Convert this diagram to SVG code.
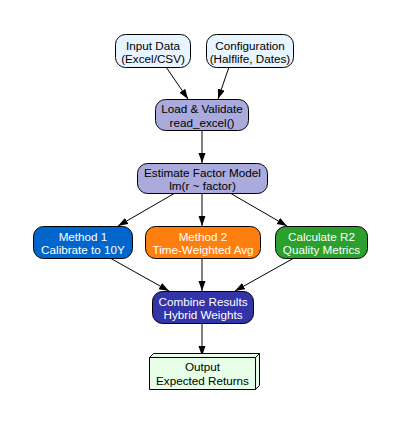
<svg xmlns="http://www.w3.org/2000/svg" width="400" height="423" viewBox="0 0 400 423">
<defs>
<marker id="ah" markerWidth="10" markerHeight="8" refX="10" refY="3.5" orient="auto" markerUnits="userSpaceOnUse"><path d="M0,0 L10,3.5 L0,7 z" fill="#000"/></marker>
<style>
.n{stroke:#000;stroke-width:1}
.t{font-family:"Liberation Sans",Arial,sans-serif;font-size:11.7px;text-anchor:middle;fill:#000}
.w{fill:#fff}
.e{stroke:#000;stroke-width:1;fill:none;marker-end:url(#ah)}
</style>
</defs>
<rect width="400" height="423" fill="#fff"/>
<g id="connectors">
<line class="e" x1="166" y1="67" x2="188" y2="99"/>
<line class="e" x1="229" y1="67" x2="218" y2="99"/>
<line class="e" x1="202" y1="130" x2="202" y2="163"/>
<line class="e" x1="175" y1="193" x2="118" y2="226"/>
<line class="e" x1="202" y1="193" x2="202" y2="226"/>
<line class="e" x1="230" y1="193" x2="287" y2="226"/>
<line class="e" x1="110" y1="258" x2="169" y2="291"/>
<line class="e" x1="202" y1="258" x2="202" y2="291"/>
<line class="e" x1="294" y1="258" x2="235" y2="291"/>
<line class="e" x1="202" y1="323" x2="202" y2="356"/>
</g>
<g id="input">
<rect class="n" x="115.5" y="34.5" width="75" height="33" rx="10" fill="#e8f4ff"/>
<text class="t" x="153" y="49.5">Input Data</text>
<text class="t" x="153" y="63">(Excel/CSV)</text>
</g>
<g id="config">
<rect class="n" x="206.5" y="34.5" width="87" height="33" rx="10" fill="#e8f4ff"/>
<text class="t" x="250" y="49.5">Configuration</text>
<text class="t" x="250" y="63">(Halflife, Dates)</text>
</g>
<g id="load">
<rect class="n" x="155.5" y="99.5" width="93" height="31" rx="10" fill="#aaaadd"/>
<text class="t" x="202" y="113">Load &amp; Validate</text>
<text class="t" x="202" y="126.5">read_excel()</text>
</g>
<g id="estimate">
<rect class="n" x="137.5" y="163.5" width="130" height="30" rx="10" fill="#aaaadd"/>
<text class="t" x="202.5" y="177">Estimate Factor Model</text>
<text class="t" x="202.5" y="190">lm(r ~ factor)</text>
</g>
<g id="method1">
<rect class="n" x="33.5" y="226.5" width="99" height="32" rx="10" fill="#0066cc"/>
<text class="t w" x="83" y="240.5">Method 1</text>
<text class="t w" x="83" y="254">Calibrate to 10Y</text>
</g>
<g id="method2">
<rect class="n" x="145.5" y="226.5" width="115" height="32" rx="10" fill="#ff7f0e"/>
<text class="t w" x="203" y="240.5">Method 2</text>
<text class="t w" x="203" y="254">Time-Weighted Avg</text>
</g>
<g id="r2">
<rect class="n" x="275.5" y="226.5" width="92" height="32" rx="10" fill="#2ca02c"/>
<text class="t w" x="321.5" y="240.5">Calculate R2</text>
<text class="t w" x="321.5" y="254">Quality Metrics</text>
</g>
<g id="combine">
<rect class="n" x="152.5" y="291.5" width="101" height="32" rx="10" fill="#3333aa"/>
<text class="t w" x="203" y="305.5">Combine Results</text>
<text class="t w" x="203" y="319">Hybrid Weights</text>
</g>
<g id="output">
<path class="n" d="M149.5,357.5 L153.5,353.5 L259.5,353.5 L259.5,385.5 L255.5,389.5 L149.5,389.5 Z" fill="#e6ffe6"/>
<path class="n" d="M149.5,357.5 L255.5,357.5 L255.5,389.5 M255.5,357.5 L259.5,353.5" fill="none"/>
<text class="t" x="202.5" y="371">Output</text>
<text class="t" x="202.5" y="384.5">Expected Returns</text>
</g>
</svg>
